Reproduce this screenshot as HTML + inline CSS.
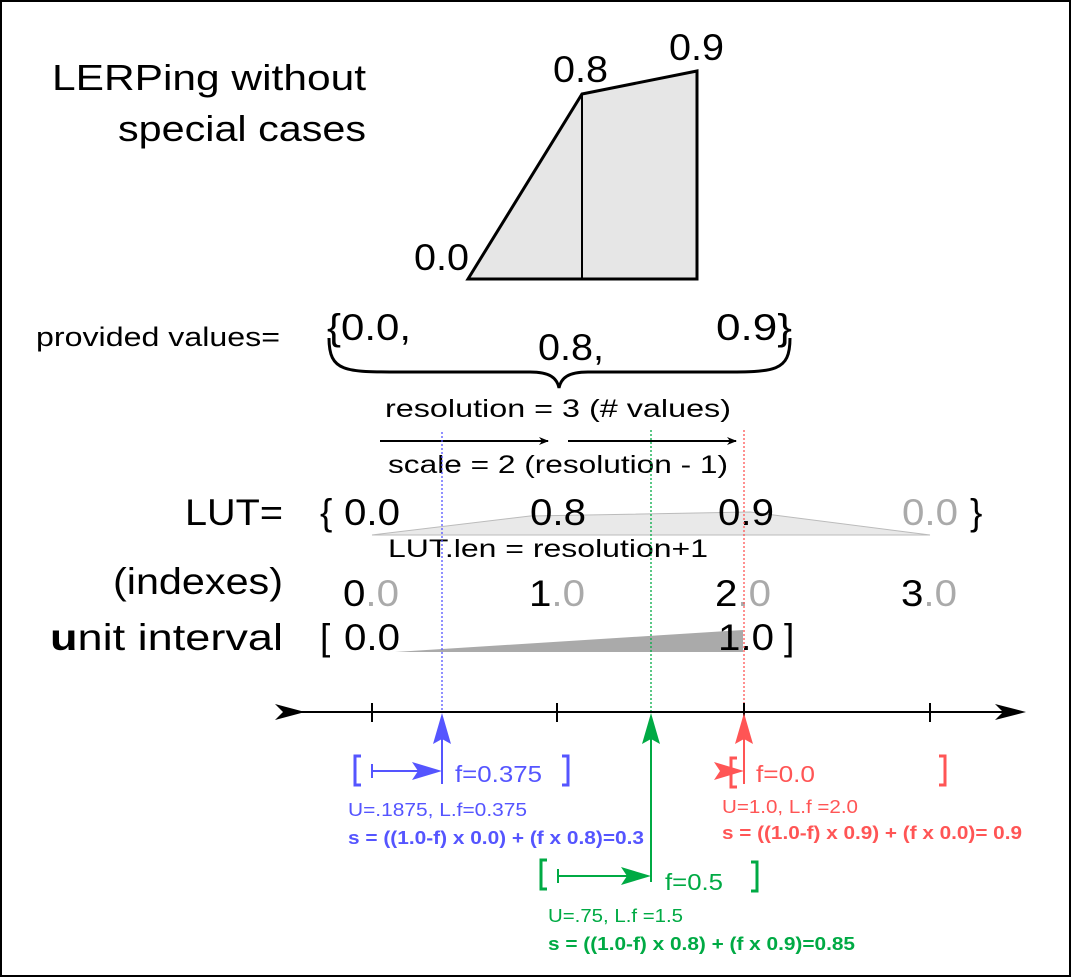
<!DOCTYPE html>
<html><head><meta charset="utf-8"><style>
html,body{margin:0;padding:0;background:#fff}
svg{display:block}
text{font-family:"Liberation Sans","DejaVu Sans",sans-serif}
</style></head><body>
<svg width="1071" height="977" viewBox="0 0 1071 977" xmlns="http://www.w3.org/2000/svg">
<defs>
<marker id="ak" markerWidth="10" markerHeight="8" refX="9" refY="4" orient="auto" markerUnits="userSpaceOnUse"><path d="M0,0 L10,4 L0,8 L3,4z" fill="#000"/></marker>
</defs>
<rect x="1" y="1" width="1069" height="975" fill="#fff" stroke="#000" stroke-width="2"/>
<text x="52" y="90" font-size="36" textLength="314" lengthAdjust="spacingAndGlyphs">LERPing without</text>
<text x="118" y="141" font-size="36" textLength="248" lengthAdjust="spacingAndGlyphs">special cases</text>
<polygon points="468,279 582,94 697,71 697,279" fill="#e6e6e6" stroke="#000" stroke-width="3"/>
<line x1="582" y1="94" x2="582" y2="279" stroke="#000" stroke-width="2"/>
<text x="414" y="270" font-size="37" textLength="55" lengthAdjust="spacingAndGlyphs">0.0</text>
<text x="553" y="82" font-size="37" textLength="55" lengthAdjust="spacingAndGlyphs">0.8</text>
<text x="669" y="60" font-size="37" textLength="55" lengthAdjust="spacingAndGlyphs">0.9</text>
<text x="36" y="346" font-size="27" textLength="244" lengthAdjust="spacingAndGlyphs">provided values=</text>
<text x="327" y="340" font-size="37" textLength="84" lengthAdjust="spacingAndGlyphs">{0.0,</text>
<text x="538" y="360" font-size="37" textLength="66" lengthAdjust="spacingAndGlyphs">0.8,</text>
<text x="716" y="340" font-size="37" textLength="76" lengthAdjust="spacingAndGlyphs">0.9}</text>
<path d="M329,338 C329,372 345,372 400,372 L530,372 C550,372 557,378 559,388 C561,378 568,372 588,372 L720,372 C775,372 790,372 790,338" fill="none" stroke="#000" stroke-width="3"/>
<text x="385" y="417" font-size="25" textLength="346" lengthAdjust="spacingAndGlyphs">resolution = 3 (# values)</text>
<line x1="380" y1="441" x2="548" y2="441" stroke="#000" stroke-width="2" marker-end="url(#ak)"/>
<line x1="568" y1="441" x2="736" y2="441" stroke="#000" stroke-width="2" marker-end="url(#ak)"/>
<text x="388" y="473" font-size="25" textLength="340" lengthAdjust="spacingAndGlyphs">scale = 2 (resolution - 1)</text>
<polygon points="372,535 530,516 750,512 930,535" fill="#e9e9e9" stroke="#bbb" stroke-width="1"/>
<text x="185" y="525" font-size="37" textLength="98" lengthAdjust="spacingAndGlyphs">LUT=</text>
<text x="320" y="525" font-size="37">{</text>
<text x="344" y="525" font-size="37" textLength="56" lengthAdjust="spacingAndGlyphs">0.0</text>
<text x="530" y="525" font-size="37" textLength="56" lengthAdjust="spacingAndGlyphs">0.8</text>
<text x="718" y="525" font-size="37" textLength="56" lengthAdjust="spacingAndGlyphs">0.9</text>
<text x="902" y="525" font-size="37" fill="#aaa" textLength="56" lengthAdjust="spacingAndGlyphs">0.0</text>
<text x="970" y="525" font-size="37">}</text>
<text x="388" y="557" font-size="25" textLength="320" lengthAdjust="spacingAndGlyphs">LUT.len = resolution+1</text>
<text x="113" y="594" font-size="37" textLength="170" lengthAdjust="spacingAndGlyphs">(indexes)</text>
<text x="343" y="606" font-size="37" textLength="56" lengthAdjust="spacingAndGlyphs">0<tspan fill="#aaa">.0</tspan></text>
<text x="529" y="606" font-size="37" textLength="56" lengthAdjust="spacingAndGlyphs">1<tspan fill="#aaa">.0</tspan></text>
<text x="715" y="606" font-size="37" textLength="56" lengthAdjust="spacingAndGlyphs">2<tspan fill="#aaa">.0</tspan></text>
<text x="901" y="606" font-size="37" textLength="56" lengthAdjust="spacingAndGlyphs">3<tspan fill="#aaa">.0</tspan></text>
<polygon points="395,652 743,630 743,652" fill="#aaa"/>
<text x="50" y="650" font-size="37" textLength="233" lengthAdjust="spacingAndGlyphs"><tspan font-weight="bold">u</tspan>nit interval</text>
<text x="320" y="650" font-size="37">[</text>
<text x="344" y="650" font-size="37" textLength="56" lengthAdjust="spacingAndGlyphs">0.0</text>
<text x="718" y="650" font-size="37" textLength="56" lengthAdjust="spacingAndGlyphs">1.0</text>
<text x="784" y="650" font-size="37">]</text>
<line x1="442" y1="432" x2="442" y2="712" stroke="#5555ff" stroke-width="1.3" stroke-dasharray="2,2"/>
<line x1="651" y1="430" x2="651" y2="712" stroke="#00aa44" stroke-width="1.3" stroke-dasharray="2,2"/>
<line x1="744" y1="430" x2="744" y2="712" stroke="#ff5555" stroke-width="1.3" stroke-dasharray="2,2"/>
<line x1="290" y1="712" x2="1022" y2="712" stroke="#000" stroke-width="2"/>
<path d="M275,704 L305,712 L275,720 L283,712z" fill="#000"/>
<path d="M995,704 L1026,712 L995,720 L1003,712z" fill="#000"/>
<g stroke="#000" stroke-width="2"><line x1="372" y1="703" x2="372" y2="722"/><line x1="557" y1="703" x2="557" y2="722"/><line x1="744" y1="703" x2="744" y2="722"/><line x1="930" y1="703" x2="930" y2="722"/></g>
<g stroke="#5555ff" fill="none">
<line x1="442" y1="784" x2="442" y2="730" stroke-width="2"/>
<path d="M361,756 h-6 v29 h6 M562,756 h6 v29 h-6" stroke-width="3"/>
<line x1="372" y1="771" x2="428" y2="771" stroke-width="2"/>
<line x1="372" y1="764" x2="372" y2="778" stroke-width="2"/>
</g>
<path d="M442,713 L451,744 L442,739 L433,744z" fill="#5555ff"/>
<path d="M442,771 L412,762 L418,771 L412,780z" fill="#5555ff"/>
<text x="455" y="782" font-size="23" fill="#5555ff" textLength="87" lengthAdjust="spacingAndGlyphs">f=0.375</text>
<text x="348" y="816" font-size="18" fill="#5555ff" textLength="179" lengthAdjust="spacingAndGlyphs">U=.1875, L.f=0.375</text>
<text x="348" y="844" font-size="18" fill="#5555ff" font-weight="bold" textLength="296" lengthAdjust="spacingAndGlyphs">s = ((1.0-f) x 0.0) + (f x 0.8)=0.3</text>
<g stroke="#00aa44" fill="none">
<line x1="651" y1="882" x2="651" y2="730" stroke-width="2"/>
<path d="M547,860 h-6 v29 h6 M751,862 h6 v29 h-6" stroke-width="3"/>
<line x1="558" y1="876" x2="636" y2="876" stroke-width="2"/>
<line x1="558" y1="869" x2="558" y2="883" stroke-width="2"/>
</g>
<path d="M651,713 L660,744 L651,739 L642,744z" fill="#00aa44"/>
<path d="M651,876 L621,867 L627,876 L621,885z" fill="#00aa44"/>
<text x="665" y="890" font-size="23" fill="#00aa44" textLength="58" lengthAdjust="spacingAndGlyphs">f=0.5</text>
<text x="548" y="922" font-size="18" fill="#00aa44" textLength="135" lengthAdjust="spacingAndGlyphs">U=.75, L.f =1.5</text>
<text x="548" y="950" font-size="18" fill="#00aa44" font-weight="bold" textLength="307" lengthAdjust="spacingAndGlyphs">s = ((1.0-f) x 0.8) + (f x 0.9)=0.85</text>
<g stroke="#ff5555" fill="none">
<line x1="744" y1="784" x2="744" y2="730" stroke-width="2"/>
<path d="M737,758 h-6 v29 h6 M939,756 h6 v29 h-6" stroke-width="3"/>
</g>
<path d="M744,713 L753,744 L744,739 L735,744z" fill="#ff5555"/>
<path d="M744,771 L714,762 L720,771 L714,780z" fill="#ff5555"/>
<text x="756" y="782" font-size="23" fill="#ff5555" textLength="59" lengthAdjust="spacingAndGlyphs">f=0.0</text>
<text x="722" y="813" font-size="18" fill="#ff5555" textLength="136" lengthAdjust="spacingAndGlyphs">U=1.0, L.f =2.0</text>
<text x="722" y="839" font-size="18" fill="#ff5555" font-weight="bold" textLength="300" lengthAdjust="spacingAndGlyphs">s = ((1.0-f) x 0.9) + (f x 0.0)= 0.9</text>
</svg>
</body></html>
